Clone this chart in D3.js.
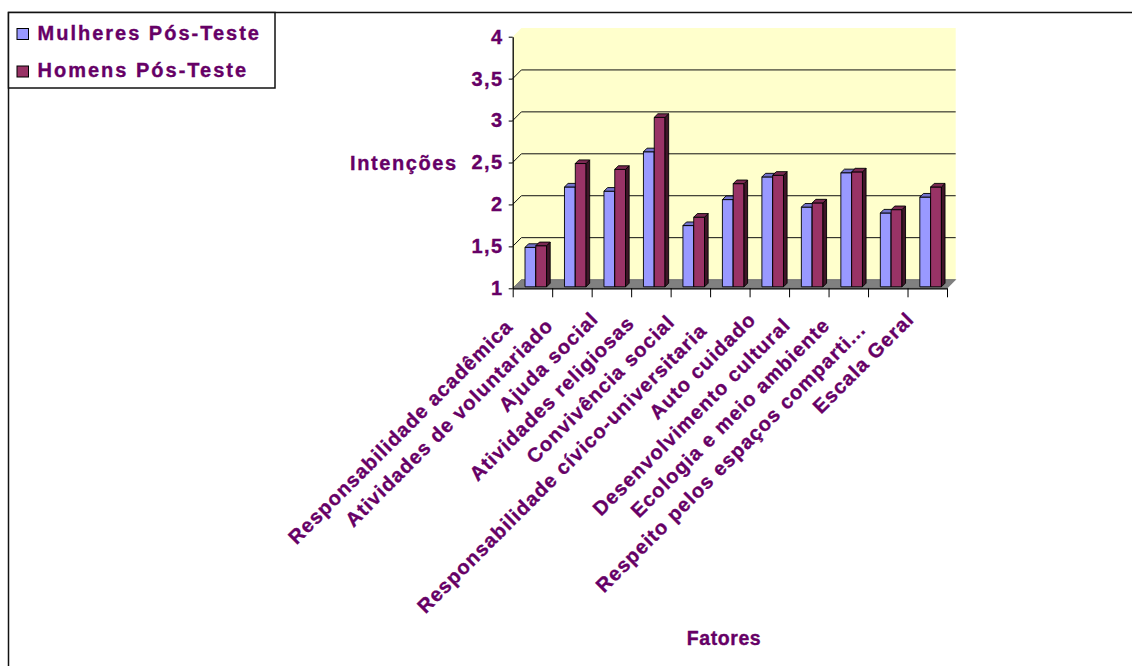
<!DOCTYPE html>
<html>
<head>
<meta charset="utf-8">
<script src="https://cdn.jsdelivr.net/npm/d3@7"></script>
<style>
  body { margin: 0; background: #fff; }
  svg { display: block; }
  text { font-family: "Liberation Sans", Arial, sans-serif; font-weight: bold; fill: #660066;
         stroke: #660066; stroke-width: 0.35px; }
</style>
</head>
<body>
<svg id="chart" width="1132" height="666"></svg>
<script>
// Factor names (x categories)
const categories = [
  "Responsabilidade acadêmica",
  "Atividades de voluntariado",
  "Ajuda social",
  "Atividades religiosas",
  "Convivência social",
  "Responsabilidade cívico-universitaria",
  "Auto cuidado",
  "Desenvolvimento cultural",
  "Ecologia e meio ambiente",
  "Respeito pelos espaços comparti...",
  "Escala Geral"
];

// Mean intention scores after the test
const mulheres = [1.47, 2.19, 2.14, 2.61, 1.73, 2.04, 2.31, 1.95, 2.36, 1.88, 2.07];
const homens   = [1.49, 2.47, 2.40, 3.02, 1.83, 2.23, 2.33, 2.00, 2.37, 1.92, 2.19];

const seriesNames = ["Mulheres Pós-Teste", "Homens Pós-Teste"];
const yTicks = [1, 1.5, 2, 2.5, 3, 3.5, 4];
const yTitle = "Intenções";
const xTitle = "Fatores";

const svg = d3.select("#chart");

// Colours of each bar face: front, top, side
const palette = [
  { front: "#9999ff", top: "#7373cc", side: "#4d4d80" },
  { front: "#993366", top: "#7a2952", side: "#401529" }
];

// Front plane of the 3D plot and the depth offset to the back wall
const x = d3.scaleBand().domain(categories).range([512.7, 947]);
const y = d3.scaleLinear().domain([1, 4]).range([288.3, 36.7]);
const depth = { dx: 8.7, dy: -8.7 };
const x0 = x.range()[0], x1 = x.range()[1];
const yBase = y(1), yTop = y(4);

// Chart area border (extends past the window on the right and bottom)
svg.append("path")
  .attr("d", `M1140,12.5 H8.5 V680`)
  .attr("fill", "none").attr("stroke", "#111").attr("stroke-width", 1.5);

// Walls
const wallFill = "#ffffcc";
svg.append("path")
  .attr("d", `M${x0},${yBase} L${x0},${yTop} L${x0 + depth.dx},${yTop + depth.dy}
              L${x1 + depth.dx},${yTop + depth.dy} L${x1 + depth.dx},${yBase + depth.dy}
              L${x0 + depth.dx},${yBase + depth.dy} Z`)
  .attr("fill", wallFill);

// Floor
svg.append("path")
  .attr("d", `M${x0},${yBase} L${x1},${yBase} L${x1 + depth.dx},${yBase + depth.dy}
              L${x0 + depth.dx},${yBase + depth.dy} Z`)
  .attr("fill", "#808080").attr("stroke", "#555").attr("stroke-width", 0.6);

// Gridlines: a short diagonal on the side wall, then across the back wall
const grid = svg.append("g");
yTicks.filter(v => v > 1 && v < 4).forEach(v => {
  grid.append("path")
    .attr("d", `M${x0},${y(v)} L${x0 + depth.dx},${y(v) + depth.dy} L${x1 + depth.dx},${y(v) + depth.dy}`)
    .attr("fill", "none").attr("stroke", "#111").attr("stroke-width", 1);
});

// Bars drawn as prisms
const barOffset = 12.3, barW = 10.8, bDepth = 3.6, barLift = 1.5;
const barsG = svg.append("g");
categories.forEach((c, i) => {
  [mulheres[i], homens[i]].forEach((v, s) => {
    const bx = x(c) + barOffset + s * barW;
    const by = y(v) - barLift;
    const bb = yBase - barLift;
    const col = palette[s];
    const g = barsG.append("g").attr("stroke", "#000").attr("stroke-width", 0.9).attr("stroke-linejoin", "round");
    g.append("rect").attr("x", bx).attr("y", by).attr("width", barW).attr("height", bb - by).attr("fill", col.front);
    g.append("path")
      .attr("d", `M${bx + barW},${by} L${bx + barW + bDepth},${by - bDepth} L${bx + barW + bDepth},${bb - bDepth} L${bx + barW},${bb} Z`)
      .attr("fill", col.side);
    g.append("path")
      .attr("d", `M${bx},${by} L${bx + bDepth},${by - bDepth} L${bx + barW + bDepth},${by - bDepth} L${bx + barW},${by} Z`)
      .attr("fill", col.top);
  });
});

// Y axis
const yAxis = svg.append("g")
  .attr("transform", `translate(${x0},0)`)
  .call(d3.axisLeft(y).tickValues(yTicks).tickSize(4).tickPadding(5).tickSizeOuter(0)
    .tickFormat(d => String(d).replace(".", ",")));
yAxis.select(".domain").attr("stroke", "#000").attr("stroke-width", 1.3);
yAxis.selectAll(".tick line").attr("stroke", "#000");
yAxis.selectAll("text")
  .attr("font-size", 20).attr("fill", "#660066").attr("font-family", null)
  .style("letter-spacing", "1.5px");

// X axis: front floor edge with ticks on the category boundaries
const xb = d3.scaleLinear().domain([0, categories.length]).range([x0, x1]);
const xAxis = svg.append("g")
  .attr("transform", `translate(0,${yBase})`)
  .call(d3.axisBottom(xb).ticks(categories.length).tickSize(9).tickSizeOuter(0).tickFormat(""));
xAxis.select(".domain").attr("stroke", "#000").attr("stroke-width", 1.3);
xAxis.selectAll(".tick line").attr("stroke", "#000");

// Category labels rotated 45°, end anchored below each column pair;
// longer labels sit slightly further down along their own direction
const labels = svg.append("g");
categories.forEach(c => {
  const t = labels.append("text")
    .attr("font-size", 20)
    .style("letter-spacing", "1.1px")
    .attr("text-anchor", "end")
    .text(c);
  const L = t.node().getComputedTextLength();
  const px = x(c) + x.bandwidth() / 2 - 7 - 0.037 * L;
  const py = 314.7 + 0.043 * L;
  t.attr("transform", `translate(${px},${py}) rotate(-45)`);
});

// Axis titles
svg.append("text").attr("x", 350).attr("y", 169.5).attr("font-size", 20)
  .style("letter-spacing", "1.6px").text(yTitle);
svg.append("text").attr("x", 724).attr("y", 645).attr("font-size", 19.5)
  .attr("text-anchor", "middle").style("letter-spacing", "0.6px").text(xTitle);

// Legend
const legend = svg.append("g");
legend.append("rect").attr("x", 8.5).attr("y", 12.5).attr("width", 266.5).attr("height", 75.5)
  .attr("fill", "#fff").attr("stroke", "#111").attr("stroke-width", 1.5);
seriesNames.forEach((name, i) => {
  const ly = 28.5 + i * 37.5;
  legend.append("rect").attr("x", 17).attr("y", ly).attr("width", 11.5).attr("height", 11)
    .attr("fill", palette[i].front).attr("stroke", "#000").attr("stroke-width", 1);
  legend.append("text").attr("x", 37.5).attr("y", ly + 11).attr("font-size", 20)
    .style("letter-spacing", "2px").text(name);
});
</script>
</body>
</html>
